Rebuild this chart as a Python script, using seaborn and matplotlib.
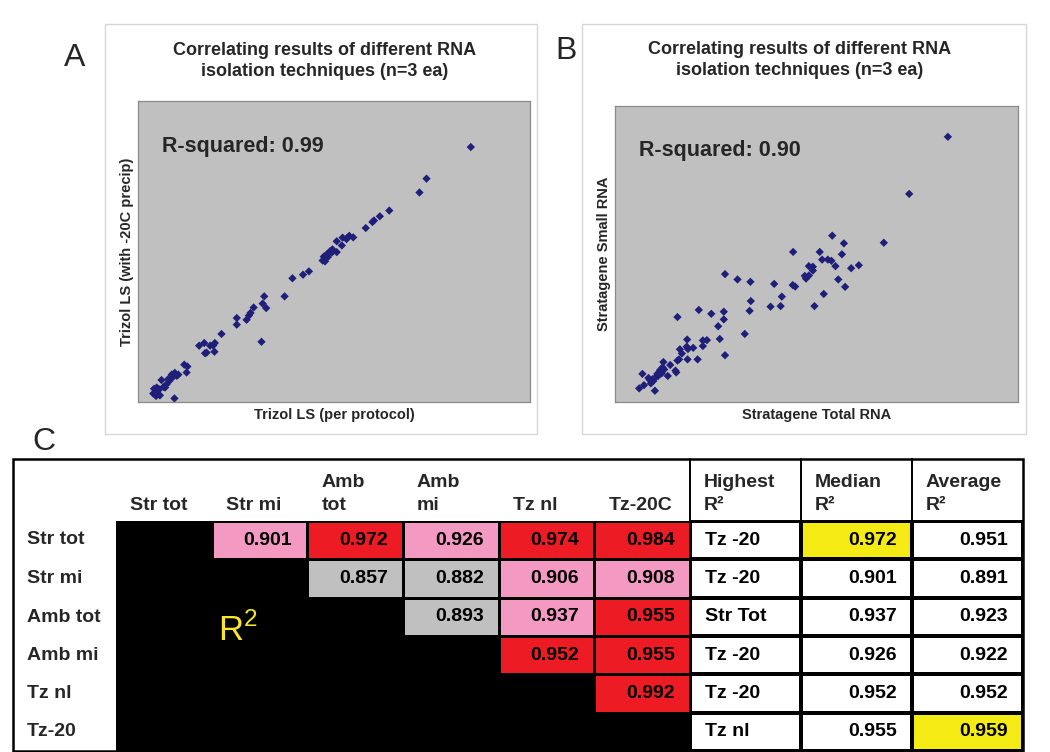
import numpy as np
import pandas as pd
import matplotlib
matplotlib.use('Agg')
import matplotlib.pyplot as plt
from matplotlib.colors import ListedColormap
from matplotlib.patches import Rectangle
import seaborn as sns

# ---- scatter data (relative units) ----
a_x = [84.9, 73.6, 71.8, 64.1, 61.7, 60.2, 59.8, 58.1, 54.9, 53.9, 53.2, 52.2, 52.0, 50.7, 49.6,
       49.0, 50.7, 49.4, 48.1, 47.4, 47.1, 47.7, 48.4, 49.8, 53.4, 43.6, 42.1, 39.4, 37.4, 32.2,
       31.8, 32.7, 29.5, 28.7, 28.3, 27.7, 25.2, 25.2, 31.5, 21.3, 19.6, 19.2, 18.4, 16.9, 15.6,
       17.5, 17.1, 19.5, 12.6, 11.8, 12.4, 10.3, 9.4, 9.0, 8.6, 8.4, 8.0, 7.3, 6.9, 6.0,
       6.5, 5.4, 4.8, 4.1, 4.3, 3.9, 5.2, 5.6, 4.6, 9.3, 4.9, 9.9, 7.7]
a_y = [84.7, 74.2, 69.6, 63.6, 61.7, 60.3, 59.8, 57.8, 54.7, 55.2, 54.1, 54.6, 52.0, 53.4, 50.7,
       50.1, 49.8, 49.6, 49.0, 48.3, 47.0, 46.7, 48.1, 50.3, 54.6, 43.4, 42.3, 41.1, 35.1, 35.1,
       32.7, 31.2, 31.4, 29.6, 28.7, 27.3, 27.9, 25.7, 20.0, 22.6, 19.6, 18.8, 18.7, 19.6, 18.7,
       16.4, 16.2, 16.7, 11.8, 12.4, 9.8, 9.1, 9.7, 8.4, 9.1, 8.1, 7.0, 5.9, 4.8, 7.3,
       5.0, 4.2, 4.8, 4.4, 3.1, 2.8, 2.6, 2.2, 2.0, 1.2, 3.7, 8.7, 7.6]

b_x = [82.6, 73.0, 66.7, 53.9, 56.8, 44.2, 50.8, 51.4, 52.8, 53.7,
       56.3, 54.7, 60.5, 58.6, 48.1, 49.1, 49.1, 48.1, 47.1, 47.4,
       55.4, 57.1, 51.8, 49.5, 44.1, 44.7, 39.5, 41.4, 41.1, 38.6,
       33.7, 33.4, 33.6, 30.4, 27.3, 32.2, 27.3, 27.0, 27.0, 23.9,
       20.8, 15.5, 25.6, 26.0, 22.8, 21.8, 21.8, 19.4, 17.9, 17.8,
       18.1, 20.5, 18.0, 16.1, 16.6, 15.9, 15.5, 13.7, 15.0, 15.2,
       13.1, 12.0, 11.8, 12.2, 11.2, 11.6, 10.5, 10.7, 10.2, 9.3,
       9.5, 8.7, 8.3, 8.9, 6.8, 7.2, 6.0, 9.9]
b_y = [89.6, 70.3, 53.8, 56.2, 53.6, 50.7, 50.7, 48.1, 48.1, 47.7,
       49.9, 45.9, 46.2, 45.2, 45.9, 45.7, 44.4, 42.7, 42.6, 41.7,
       41.4, 38.9, 36.5, 32.4, 39.5, 39.0, 39.9, 35.6, 32.4, 32.2,
       34.1, 30.8, 40.6, 41.4, 43.2, 23.0, 15.8, 30.5, 27.9, 29.8,
       31.1, 28.7, 25.6, 21.3, 20.9, 20.8, 18.9, 18.3, 21.1, 18.7,
       17.9, 14.4, 14.4, 17.8, 16.4, 14.4, 14.0, 12.5, 10.6, 10.0,
       8.8, 13.5, 11.7, 11.0, 10.8, 9.7, 9.5, 8.8, 8.5, 7.7,
       7.1, 7.4, 8.1, 6.3, 9.5, 5.7, 4.6, 3.8]

# ---- R-squared table ----
methods = ['Str tot', 'Str mi', 'Amb tot', 'Amb mi', 'Tz nl', 'Tz-20']
col_heads = ['Str tot', 'Str mi', 'Amb\ntot', 'Amb\nmi', 'Tz nl', 'Tz-20C']
sum_heads = ['Highest\nR²', 'Median\nR²', 'Average\nR²']
nan = np.nan
r2 = [[nan, 0.901, 0.972, 0.926, 0.974, 0.984],
      [nan, nan, 0.857, 0.882, 0.906, 0.908],
      [nan, nan, nan, 0.893, 0.937, 0.955],
      [nan, nan, nan, nan, 0.952, 0.955],
      [nan, nan, nan, nan, nan, 0.992],
      [nan, nan, nan, nan, nan, nan]]
highest = ['Tz -20', 'Tz -20', 'Str Tot', 'Tz -20', 'Tz -20', 'Tz nl']
median_r2 = [0.972, 0.901, 0.937, 0.926, 0.952, 0.955]
average_r2 = [0.951, 0.891, 0.923, 0.922, 0.952, 0.959]

sns.set_style('white')
plt.rcParams['font.family'] = ['Liberation Sans', 'DejaVu Sans']
plt.rcParams['mathtext.fontset'] = 'custom'
plt.rcParams['mathtext.rm'] = 'Liberation Sans'

W, H = 1050, 752
fig = plt.figure(figsize=(10.5, 7.52), dpi=100)


def px_box(x0, y0, x1, y1):
    return [x0 / W, 1 - y1 / H, (x1 - x0) / W, (y1 - y0) / H]


NAVY = '#1f1f7a'
PLOT_BG = '#c0c0c0'
TFS = 14  # table font size

# ---- scatter panels ----
panels = [
    (a_x, a_y, (138, 101, 530, 402), 'Trizol LS (per protocol)',
     'Trizol LS (with -20C precip)', 'R-squared: 0.99'),
    (b_x, b_y, (615, 106, 1018, 402), 'Stratagene Total RNA',
     'Stratagene Small RNA', 'R-squared: 0.90'),
]
for xs, ys, box, xl, yl, rtxt in panels:
    ax = fig.add_axes(px_box(*box))
    ax.set_facecolor(PLOT_BG)
    sns.scatterplot(x=xs, y=ys, marker='D', s=18, color=NAVY, edgecolor='none', ax=ax)
    ax.set_xlim(0, 100)
    ax.set_ylim(0, 100)
    ax.set_xticks([])
    ax.set_yticks([])
    for sp in ax.spines.values():
        sp.set_color('#8a8a8a')
        sp.set_linewidth(0.9)
    ax.set_xlabel(xl, fontsize=10.5, fontweight='bold', labelpad=4)
    ax.set_ylabel(yl, fontsize=10.5, fontweight='bold', labelpad=3)
    ax.text(0.06, 0.85, rtxt, transform=ax.transAxes, fontsize=15.5,
            fontweight='bold', va='center', ha='left')

# ---- R2 matrix (heatmap) ----
mat = np.array(r2, dtype=float)
codes = np.digitize(np.nan_to_num(mat, nan=0.0), [0.9, 0.95])
mask = np.isnan(mat)
annot = np.where(mask, '', np.vectorize(lambda v: f'{v:.3f}')(np.nan_to_num(mat)))

ax_m = fig.add_axes(px_box(116, 521, 690, 751))
ax_m.set_facecolor('black')
sns.heatmap(codes, mask=mask, cmap=ListedColormap(['#c0c0c0', '#f49ac2', '#ed1c24']),
            vmin=-0.5, vmax=2.5, annot=annot, fmt='', cbar=False,
            linewidths=1.0, linecolor='black', xticklabels=False, yticklabels=False,
            annot_kws=dict(color='black', fontsize=TFS, fontweight='bold'), ax=ax_m)
cell_w = (690 - 116) / 6
for t in ax_m.texts:
    x, y = t.get_position()
    t.set_position((x + 0.5 - 15 / cell_w, y))
    t.set_ha('right')
ax_m.text(1.27, 2.85, 'R$^2$', color='#f5e82a', fontsize=25, ha='center', va='center')

# ---- summary columns (heatmap, yellow = best) ----
hl = np.zeros((6, 3))
hl[int(np.argmax(median_r2)), 1] = 1
hl[int(np.argmax(average_r2)), 2] = 1
summary = pd.DataFrame({'Highest': highest,
                        'Median': [f'{v:.3f}' for v in median_r2],
                        'Average': [f'{v:.3f}' for v in average_r2]})
ax_s = fig.add_axes(px_box(690, 521, 1023, 751))
sns.heatmap(hl, cmap=ListedColormap(['white', '#f5eb14']), vmin=-0.5, vmax=1.5,
            annot=summary.values, fmt='', cbar=False, linewidths=1.5, linecolor='black',
            xticklabels=False, yticklabels=False,
            annot_kws=dict(color='black', fontsize=TFS, fontweight='bold'), ax=ax_s)
sum_w = (1023 - 690) / 3
for t in ax_s.texts:
    x, y = t.get_position()
    if x < 1:
        t.set_position((x - 0.5 + 15 / sum_w, y))
        t.set_ha('left')
    else:
        t.set_position((x + 0.5 - 15 / sum_w, y))
        t.set_ha('right')

# ---- overlay: panel frames, table frame, labels ----
ov = fig.add_axes([0, 0, 1, 1], zorder=10)
ov.set_xlim(0, W)
ov.set_ylim(H, 0)
ov.axis('off')
ov.patch.set_alpha(0)

ov.add_patch(Rectangle((105, 24), 432, 410, fill=False, ec='#d6d6d6', lw=1.0))
ov.add_patch(Rectangle((582, 24), 444, 410, fill=False, ec='#d6d6d6', lw=1.0))

title = 'Correlating results of different RNA\nisolation techniques (n=3 ea)'
ov.text(325, 61, title, ha='center', va='center', fontsize=13, fontweight='bold',
        linespacing=1.3)
ov.text(800, 60, title, ha='center', va='center', fontsize=13, fontweight='bold',
        linespacing=1.3)

ov.text(75, 58, 'A', fontsize=23, ha='center', va='center')
ov.text(566, 51, 'B', fontsize=23, ha='center', va='center')
ov.text(44, 442, 'C', fontsize=23, ha='center', va='center')

# table frame
row_edges = [521, 559, 598, 636, 674, 713, 751]
ov.add_patch(Rectangle((13, 459), 1010, 292, fill=False, ec='black', lw=1.8))
for xv in [690, 801, 912]:
    ov.plot([xv, xv], [459, 751], color='black', lw=1.4)
for yv in row_edges[:-1]:
    ov.plot([690, 1023], [yv, yv], color='black', lw=1.4)

col_lefts = [116 + i * cell_w for i in range(6)] + [690, 801, 912]
for xl, head in zip(col_lefts, col_heads + sum_heads):
    lines = head.split('\n')
    if len(lines) == 2:
        ov.text(xl + 14, 487, lines[0], fontsize=TFS, fontweight='bold', va='baseline')
    ov.text(xl + 14, 510, lines[-1], fontsize=TFS, fontweight='bold', va='baseline')

for i, name in enumerate(methods):
    yc = (row_edges[i] + row_edges[i + 1]) / 2
    ov.text(27, yc, name, fontsize=TFS, fontweight='bold', va='center', ha='left')

fig.savefig('out.png', dpi=100)
